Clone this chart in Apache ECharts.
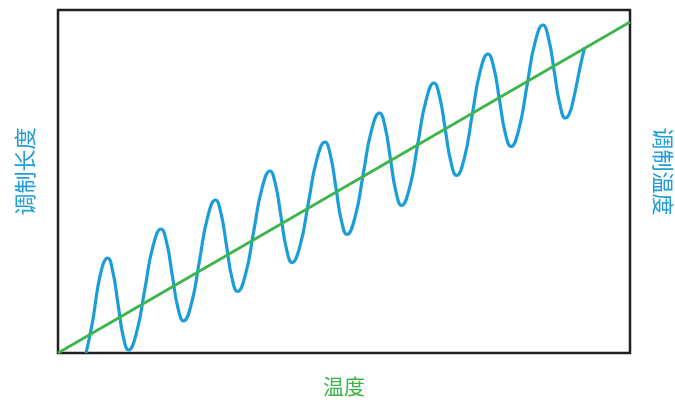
<!DOCTYPE html>
<html>
<head>
<meta charset="utf-8">
<script src="https://cdn.jsdelivr.net/npm/echarts@6/dist/echarts.min.js"></script>
<style>
  html, body { margin: 0; padding: 0; background: #ffffff; }
  #chart { width: 675px; height: 400px; }
</style>
</head>
<body>
<div id="chart"></div>
<script>
// Modulation length (oscillating) against temperature
const temperature = [
  4.90, 5.59, 6.21, 6.99, 7.69, 8.22, 8.65,
  9.57, 10.49, 11.41, 12.33,
  13.74, 15.17, 16.59, 18.01,
  18.99, 19.97, 20.96, 21.94,
  23.34, 24.74, 26.14, 27.53,
  28.50, 29.46, 30.42, 31.38,
  32.80, 34.22, 35.65, 37.06,
  38.02, 38.99, 39.95, 40.91,
  42.35, 43.79, 45.24, 46.68,
  47.64, 48.60, 49.56, 50.52,
  51.94, 53.37, 54.79, 56.21,
  57.17, 58.13, 59.09, 60.05,
  61.47, 62.89, 64.32, 65.73,
  66.71, 67.70, 68.69, 69.67,
  71.05, 72.42, 73.79, 75.17,
  76.18, 77.19, 78.19, 79.20,
  80.59, 81.99, 83.39, 84.79,
  85.77, 86.76, 87.74, 88.72,
  89.42, 90.12, 90.82, 91.43, 92.05
];
const modLength = [
  0.00, 5.25, 10.79, 19.53, 24.78, 27.11, 27.70,
  23.79, 14.29, 4.78, 0.87,
  6.03, 18.51, 30.99, 36.15,
  32.24, 22.74, 13.24, 9.33,
  14.49, 26.97, 39.45, 44.61,
  40.70, 31.27, 21.84, 17.93,
  23.06, 35.50, 47.93, 53.06,
  49.15, 39.72, 30.29, 26.38,
  31.52, 43.95, 56.38, 61.52,
  57.58, 48.03, 38.48, 34.55,
  39.71, 52.26, 64.81, 69.97,
  66.03, 56.49, 46.94, 43.00,
  48.22, 60.86, 73.50, 78.72,
  74.78, 65.23, 55.69, 51.75,
  56.91, 69.46, 82.01, 87.17,
  83.24, 73.69, 64.14, 60.20,
  65.36, 77.92, 90.47, 95.63,
  91.66, 82.07, 72.48, 68.51,
  69.83, 74.05, 79.59, 84.55, 88.92
];

// Modulation temperature trend (straight line)
const trendTemperature = [0, 100];
const modTemperature = [0, 96.5];

const axisNames = { x: '温度', left: '调制长度', right: '调制温度' };

const blue = '#1b9dd9';
const green = '#3cb64a';

const lengthData = temperature.map((t, i) => [t, modLength[i]]);
const trendData = trendTemperature.map((t, i) => [t, modTemperature[i]]);

const chart = echarts.init(document.getElementById('chart'), null, { renderer: 'canvas' });

const hiddenAxis = {
  axisLine: { show: false },
  axisTick: { show: false },
  axisLabel: { show: false },
  splitLine: { show: false }
};

chart.setOption({
  animation: false,
  backgroundColor: '#ffffff',
  grid: {
    left: 58, right: 45, top: 10, bottom: 47,
    containLabel: false,
    outerBoundsMode: 'none',
    show: true,
    borderColor: '#231f20',
    borderWidth: 2.5,
    backgroundColor: 'transparent'
  },
  xAxis: Object.assign({
    type: 'value', min: 0, max: 100,
    name: axisNames.x,
    nameLocation: 'middle',
    nameGap: 23,
    nameTextStyle: { color: '#3db54a', fontSize: 21, fontFamily: 'Noto Sans CJK SC' }
  }, hiddenAxis),
  yAxis: [
    Object.assign({
      type: 'value', min: 0, max: 100, position: 'left',
      name: axisNames.left,
      nameLocation: 'middle',
      nameGap: 22,
      nameRotate: 90,
      nameTextStyle: { color: '#1f9ed8', fontSize: 22, fontFamily: 'Noto Sans CJK SC', padding: [0, 0, 0, 20] }
    }, hiddenAxis),
    Object.assign({
      type: 'value', min: 0, max: 100, position: 'right',
      name: axisNames.right,
      nameLocation: 'middle',
      nameGap: 22,
      nameRotate: -90,
      nameTextStyle: { color: '#1f9ed8', fontSize: 22, fontFamily: 'Noto Sans CJK SC', padding: [0, 20, 0, 0] }
    }, hiddenAxis)
  ],
  series: [
    {
      type: 'line',
      yAxisIndex: 0,
      data: lengthData,
      smooth: 0.5,
      symbol: 'none',
      lineStyle: { color: blue, width: 3.2 },
      z: 2
    },
    {
      type: 'line',
      yAxisIndex: 1,
      data: trendData,
      symbol: 'none',
      lineStyle: { color: green, width: 2.8 },
      z: 3
    }
  ]
});
</script>
</body>
</html>
